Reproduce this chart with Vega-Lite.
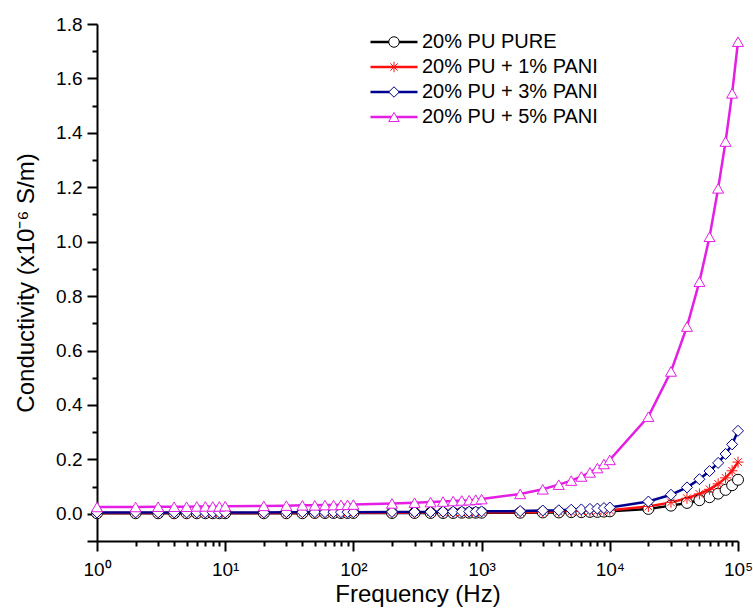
{
  "$schema": "https://vega.github.io/schema/vega-lite/v6.json",
  "width": 641,
  "height": 517,
  "autosize": "none",
  "padding": {"left": 97, "top": 24, "right": 15, "bottom": 67},
  "background": "white",
  "config": {
    "view": {"stroke": null},
    "font": "Liberation Sans",
    "axis": {
      "grid": false,
      "domainColor": "black",
      "domainWidth": 2,
      "tickColor": "black",
      "tickWidth": 2,
      "labelColor": "black",
      "titleColor": "black",
      "labelFont": "Liberation Sans",
      "titleFont": "Liberation Sans",
      "labelFontSize": 19,
      "titleFontSize": 24,
      "titleFontWeight": "normal",
      "labelOverlap": false,
      "labelFlush": false
    }
  },
  "data": {"values": [
    {"s":"20% PU PURE","f":1,"v":0.002},{"s":"20% PU PURE","f":2,"v":0.002},{"s":"20% PU PURE","f":3,"v":0.002},{"s":"20% PU PURE","f":4,"v":0.002},{"s":"20% PU PURE","f":5,"v":0.002},{"s":"20% PU PURE","f":6,"v":0.002},{"s":"20% PU PURE","f":7,"v":0.002},{"s":"20% PU PURE","f":8,"v":0.002},{"s":"20% PU PURE","f":9,"v":0.002},{"s":"20% PU PURE","f":10,"v":0.002},
    {"s":"20% PU PURE","f":20,"v":0.002},{"s":"20% PU PURE","f":30,"v":0.002},{"s":"20% PU PURE","f":40,"v":0.002},{"s":"20% PU PURE","f":50,"v":0.003},{"s":"20% PU PURE","f":60,"v":0.003},{"s":"20% PU PURE","f":70,"v":0.003},{"s":"20% PU PURE","f":80,"v":0.003},{"s":"20% PU PURE","f":90,"v":0.003},{"s":"20% PU PURE","f":100,"v":0.003},
    {"s":"20% PU PURE","f":200,"v":0.003},{"s":"20% PU PURE","f":300,"v":0.003},{"s":"20% PU PURE","f":400,"v":0.003},{"s":"20% PU PURE","f":500,"v":0.003},{"s":"20% PU PURE","f":600,"v":0.003},{"s":"20% PU PURE","f":700,"v":0.004},{"s":"20% PU PURE","f":800,"v":0.004},{"s":"20% PU PURE","f":900,"v":0.004},{"s":"20% PU PURE","f":1000,"v":0.004},
    {"s":"20% PU PURE","f":2000,"v":0.004},{"s":"20% PU PURE","f":3000,"v":0.005},{"s":"20% PU PURE","f":4000,"v":0.005},{"s":"20% PU PURE","f":5000,"v":0.006},{"s":"20% PU PURE","f":6000,"v":0.006},{"s":"20% PU PURE","f":7000,"v":0.007},{"s":"20% PU PURE","f":8000,"v":0.007},{"s":"20% PU PURE","f":9000,"v":0.008},{"s":"20% PU PURE","f":10000,"v":0.009},
    {"s":"20% PU PURE","f":20000,"v":0.018},{"s":"20% PU PURE","f":30000,"v":0.03},{"s":"20% PU PURE","f":40000,"v":0.04},{"s":"20% PU PURE","f":50000,"v":0.05},{"s":"20% PU PURE","f":60000,"v":0.061},{"s":"20% PU PURE","f":70000,"v":0.074},{"s":"20% PU PURE","f":80000,"v":0.088},{"s":"20% PU PURE","f":90000,"v":0.105},{"s":"20% PU PURE","f":100000,"v":0.125},

    {"s":"20% PU + 1% PANI","f":1,"v":0.003},{"s":"20% PU + 1% PANI","f":2,"v":0.003},{"s":"20% PU + 1% PANI","f":3,"v":0.003},{"s":"20% PU + 1% PANI","f":4,"v":0.003},{"s":"20% PU + 1% PANI","f":5,"v":0.003},{"s":"20% PU + 1% PANI","f":6,"v":0.003},{"s":"20% PU + 1% PANI","f":7,"v":0.003},{"s":"20% PU + 1% PANI","f":8,"v":0.003},{"s":"20% PU + 1% PANI","f":9,"v":0.003},{"s":"20% PU + 1% PANI","f":10,"v":0.003},
    {"s":"20% PU + 1% PANI","f":20,"v":0.003},{"s":"20% PU + 1% PANI","f":30,"v":0.003},{"s":"20% PU + 1% PANI","f":40,"v":0.003},{"s":"20% PU + 1% PANI","f":50,"v":0.003},{"s":"20% PU + 1% PANI","f":60,"v":0.004},{"s":"20% PU + 1% PANI","f":70,"v":0.004},{"s":"20% PU + 1% PANI","f":80,"v":0.004},{"s":"20% PU + 1% PANI","f":90,"v":0.004},{"s":"20% PU + 1% PANI","f":100,"v":0.004},
    {"s":"20% PU + 1% PANI","f":200,"v":0.004},{"s":"20% PU + 1% PANI","f":300,"v":0.004},{"s":"20% PU + 1% PANI","f":400,"v":0.005},{"s":"20% PU + 1% PANI","f":500,"v":0.005},{"s":"20% PU + 1% PANI","f":600,"v":0.005},{"s":"20% PU + 1% PANI","f":700,"v":0.005},{"s":"20% PU + 1% PANI","f":800,"v":0.005},{"s":"20% PU + 1% PANI","f":900,"v":0.005},{"s":"20% PU + 1% PANI","f":1000,"v":0.006},
    {"s":"20% PU + 1% PANI","f":2000,"v":0.006},{"s":"20% PU + 1% PANI","f":3000,"v":0.007},{"s":"20% PU + 1% PANI","f":4000,"v":0.008},{"s":"20% PU + 1% PANI","f":5000,"v":0.008},{"s":"20% PU + 1% PANI","f":6000,"v":0.009},{"s":"20% PU + 1% PANI","f":7000,"v":0.01},{"s":"20% PU + 1% PANI","f":8000,"v":0.011},{"s":"20% PU + 1% PANI","f":9000,"v":0.012},{"s":"20% PU + 1% PANI","f":10000,"v":0.013},
    {"s":"20% PU + 1% PANI","f":20000,"v":0.027},{"s":"20% PU + 1% PANI","f":30000,"v":0.042},{"s":"20% PU + 1% PANI","f":40000,"v":0.057},{"s":"20% PU + 1% PANI","f":50000,"v":0.073},{"s":"20% PU + 1% PANI","f":60000,"v":0.09},{"s":"20% PU + 1% PANI","f":70000,"v":0.11},{"s":"20% PU + 1% PANI","f":80000,"v":0.132},{"s":"20% PU + 1% PANI","f":90000,"v":0.158},{"s":"20% PU + 1% PANI","f":100000,"v":0.19},

    {"s":"20% PU + 3% PANI","f":1,"v":0.005},{"s":"20% PU + 3% PANI","f":2,"v":0.005},{"s":"20% PU + 3% PANI","f":3,"v":0.005},{"s":"20% PU + 3% PANI","f":4,"v":0.005},{"s":"20% PU + 3% PANI","f":5,"v":0.005},{"s":"20% PU + 3% PANI","f":6,"v":0.005},{"s":"20% PU + 3% PANI","f":7,"v":0.005},{"s":"20% PU + 3% PANI","f":8,"v":0.005},{"s":"20% PU + 3% PANI","f":9,"v":0.005},{"s":"20% PU + 3% PANI","f":10,"v":0.005},
    {"s":"20% PU + 3% PANI","f":20,"v":0.005},{"s":"20% PU + 3% PANI","f":30,"v":0.006},{"s":"20% PU + 3% PANI","f":40,"v":0.006},{"s":"20% PU + 3% PANI","f":50,"v":0.006},{"s":"20% PU + 3% PANI","f":60,"v":0.006},{"s":"20% PU + 3% PANI","f":70,"v":0.006},{"s":"20% PU + 3% PANI","f":80,"v":0.006},{"s":"20% PU + 3% PANI","f":90,"v":0.006},{"s":"20% PU + 3% PANI","f":100,"v":0.006},
    {"s":"20% PU + 3% PANI","f":200,"v":0.007},{"s":"20% PU + 3% PANI","f":300,"v":0.007},{"s":"20% PU + 3% PANI","f":400,"v":0.007},{"s":"20% PU + 3% PANI","f":500,"v":0.008},{"s":"20% PU + 3% PANI","f":600,"v":0.008},{"s":"20% PU + 3% PANI","f":700,"v":0.008},{"s":"20% PU + 3% PANI","f":800,"v":0.008},{"s":"20% PU + 3% PANI","f":900,"v":0.008},{"s":"20% PU + 3% PANI","f":1000,"v":0.009},
    {"s":"20% PU + 3% PANI","f":2000,"v":0.01},{"s":"20% PU + 3% PANI","f":3000,"v":0.012},{"s":"20% PU + 3% PANI","f":4000,"v":0.013},{"s":"20% PU + 3% PANI","f":5000,"v":0.015},{"s":"20% PU + 3% PANI","f":6000,"v":0.016},{"s":"20% PU + 3% PANI","f":7000,"v":0.018},{"s":"20% PU + 3% PANI","f":8000,"v":0.019},{"s":"20% PU + 3% PANI","f":9000,"v":0.021},{"s":"20% PU + 3% PANI","f":10000,"v":0.023},
    {"s":"20% PU + 3% PANI","f":20000,"v":0.045},{"s":"20% PU + 3% PANI","f":30000,"v":0.07},{"s":"20% PU + 3% PANI","f":40000,"v":0.097},{"s":"20% PU + 3% PANI","f":50000,"v":0.127},{"s":"20% PU + 3% PANI","f":60000,"v":0.157},{"s":"20% PU + 3% PANI","f":70000,"v":0.187},{"s":"20% PU + 3% PANI","f":80000,"v":0.22},{"s":"20% PU + 3% PANI","f":90000,"v":0.255},{"s":"20% PU + 3% PANI","f":100000,"v":0.305},

    {"s":"20% PU + 5% PANI","f":1,"v":0.025},{"s":"20% PU + 5% PANI","f":2,"v":0.025},{"s":"20% PU + 5% PANI","f":3,"v":0.026},{"s":"20% PU + 5% PANI","f":4,"v":0.026},{"s":"20% PU + 5% PANI","f":5,"v":0.026},{"s":"20% PU + 5% PANI","f":6,"v":0.027},{"s":"20% PU + 5% PANI","f":7,"v":0.027},{"s":"20% PU + 5% PANI","f":8,"v":0.027},{"s":"20% PU + 5% PANI","f":9,"v":0.027},{"s":"20% PU + 5% PANI","f":10,"v":0.028},
    {"s":"20% PU + 5% PANI","f":20,"v":0.029},{"s":"20% PU + 5% PANI","f":30,"v":0.03},{"s":"20% PU + 5% PANI","f":40,"v":0.031},{"s":"20% PU + 5% PANI","f":50,"v":0.031},{"s":"20% PU + 5% PANI","f":60,"v":0.032},{"s":"20% PU + 5% PANI","f":70,"v":0.032},{"s":"20% PU + 5% PANI","f":80,"v":0.033},{"s":"20% PU + 5% PANI","f":90,"v":0.033},{"s":"20% PU + 5% PANI","f":100,"v":0.034},
    {"s":"20% PU + 5% PANI","f":200,"v":0.038},{"s":"20% PU + 5% PANI","f":300,"v":0.041},{"s":"20% PU + 5% PANI","f":400,"v":0.043},{"s":"20% PU + 5% PANI","f":500,"v":0.045},{"s":"20% PU + 5% PANI","f":600,"v":0.047},{"s":"20% PU + 5% PANI","f":700,"v":0.049},{"s":"20% PU + 5% PANI","f":800,"v":0.05},{"s":"20% PU + 5% PANI","f":900,"v":0.052},{"s":"20% PU + 5% PANI","f":1000,"v":0.054},
    {"s":"20% PU + 5% PANI","f":2000,"v":0.073},{"s":"20% PU + 5% PANI","f":3000,"v":0.09},{"s":"20% PU + 5% PANI","f":4000,"v":0.107},{"s":"20% PU + 5% PANI","f":5000,"v":0.122},{"s":"20% PU + 5% PANI","f":6000,"v":0.137},{"s":"20% PU + 5% PANI","f":7000,"v":0.152},{"s":"20% PU + 5% PANI","f":8000,"v":0.168},{"s":"20% PU + 5% PANI","f":9000,"v":0.183},{"s":"20% PU + 5% PANI","f":10000,"v":0.198},
    {"s":"20% PU + 5% PANI","f":20000,"v":0.357},{"s":"20% PU + 5% PANI","f":30000,"v":0.523},{"s":"20% PU + 5% PANI","f":40000,"v":0.688},{"s":"20% PU + 5% PANI","f":50000,"v":0.853},{"s":"20% PU + 5% PANI","f":60000,"v":1.018},{"s":"20% PU + 5% PANI","f":70000,"v":1.196},{"s":"20% PU + 5% PANI","f":80000,"v":1.368},{"s":"20% PU + 5% PANI","f":90000,"v":1.545},{"s":"20% PU + 5% PANI","f":100000,"v":1.735}
  ]},
  "encoding": {
    "x": {
      "field": "f",
      "type": "quantitative",
      "scale": {"type": "log", "domain": [1, 100000], "nice": false},
      "axis": {
        "title": "Frequency (Hz)",
        "values": [1,2,3,4,5,6,7,8,9,10,20,30,40,50,60,70,80,90,100,200,300,400,500,600,700,800,900,1000,2000,3000,4000,5000,6000,7000,8000,9000,10000,20000,30000,40000,50000,60000,70000,80000,90000,100000],
        "labelExpr": "datum.value == pow(10, round(log(datum.value)/LN10)) ? '10' + ['⁰','¹','²','³','⁴','⁵'][round(log(datum.value)/LN10)] : ''",
        "tickSize": {"condition": {"test": "datum.value == pow(10, round(log(datum.value)/LN10))", "value": 10}, "value": 5},
        "labelPadding": 9,
        "titlePadding": 3
      }
    },
    "y": {
      "field": "v",
      "type": "quantitative",
      "scale": {"domain": [-0.1, 1.8], "nice": false, "zero": false},
      "axis": {
        "title": "Conductivity (x10⁻⁶ S/m)",
        "values": [-0.1,0,0.1,0.2,0.3,0.4,0.5,0.6,0.7,0.8,0.9,1,1.1,1.2,1.3,1.4,1.5,1.6,1.7,1.8],
        "labelExpr": "datum.value > -0.05 && abs(datum.value*5 - round(datum.value*5)) < 0.001 ? format(datum.value, '.1f') : ''",
        "tickSize": {"condition": {"test": "datum.value < -0.05 || abs(datum.value*5 - round(datum.value*5)) < 0.001", "value": 10}, "value": 5},
        "labelPadding": 5,
        "titlePadding": 17
      }
    }
  },
  "layer": [
    {
      "mark": {"type": "line", "strokeWidth": 2.5},
      "encoding": {
        "color": {
          "field": "s",
          "type": "nominal",
          "sort": ["20% PU PURE", "20% PU + 1% PANI", "20% PU + 3% PANI", "20% PU + 5% PANI"],
          "scale": {"range": ["#000000", "#ff1010", "#000090", "#e41ee4"]},
          "legend": {
            "title": null,
            "orient": "none",
            "legendX": 287,
            "legendY": 8,
            "padding": 0,
            "symbolType": "M-4.7,0H4.7",
            "symbolSize": 100,
            "symbolStrokeWidth": 2.5,
            "labelFontSize": 20,
            "labelFont": "Liberation Sans",
            "labelColor": "black",
            "labelLimit": 400,
            "labelOffset": 18,
            "rowPadding": 5
          }
        }
      }
    },
    {
      "mark": {"type": "point", "fill": "white", "opacity": 1, "strokeWidth": 1, "size": 121},
      "encoding": {
        "shape": {
          "field": "s",
          "type": "nominal",
          "scale": {
            "domain": ["20% PU PURE", "20% PU + 1% PANI", "20% PU + 3% PANI", "20% PU + 5% PANI"],
            "range": ["circle", "M-1,0H1M0,-1V1M-0.7,-0.7L0.7,0.7M-0.7,0.7L0.7,-0.7", "diamond", "triangle-up"]
          },
          "legend": {
            "title": null,
            "orient": "none",
            "legendX": 287,
            "legendY": 8,
            "padding": 0,
            "symbolSize": 110,
            "symbolStrokeWidth": 1,
            "symbolFillColor": "white",
            "labelFontSize": 20,
            "labelFont": "Liberation Sans",
            "labelColor": "black",
            "labelOpacity": 0,
            "labelLimit": 400,
            "labelOffset": 18,
            "rowPadding": 5
          }
        },
        "stroke": {
          "field": "s",
          "type": "nominal",
          "scale": {
            "domain": ["20% PU PURE", "20% PU + 1% PANI", "20% PU + 3% PANI", "20% PU + 5% PANI"],
            "range": ["#000000", "#ff1010", "#000090", "#e41ee4"]
          },
          "legend": {
            "title": null,
            "orient": "none",
            "legendX": 287,
            "legendY": 8,
            "padding": 0,
            "symbolSize": 110,
            "symbolStrokeWidth": 1,
            "symbolFillColor": "white",
            "labelFontSize": 20,
            "labelFont": "Liberation Sans",
            "labelColor": "black",
            "labelOpacity": 0,
            "labelLimit": 400,
            "labelOffset": 18,
            "rowPadding": 5
          }
        }
      }
    }
  ]
}
